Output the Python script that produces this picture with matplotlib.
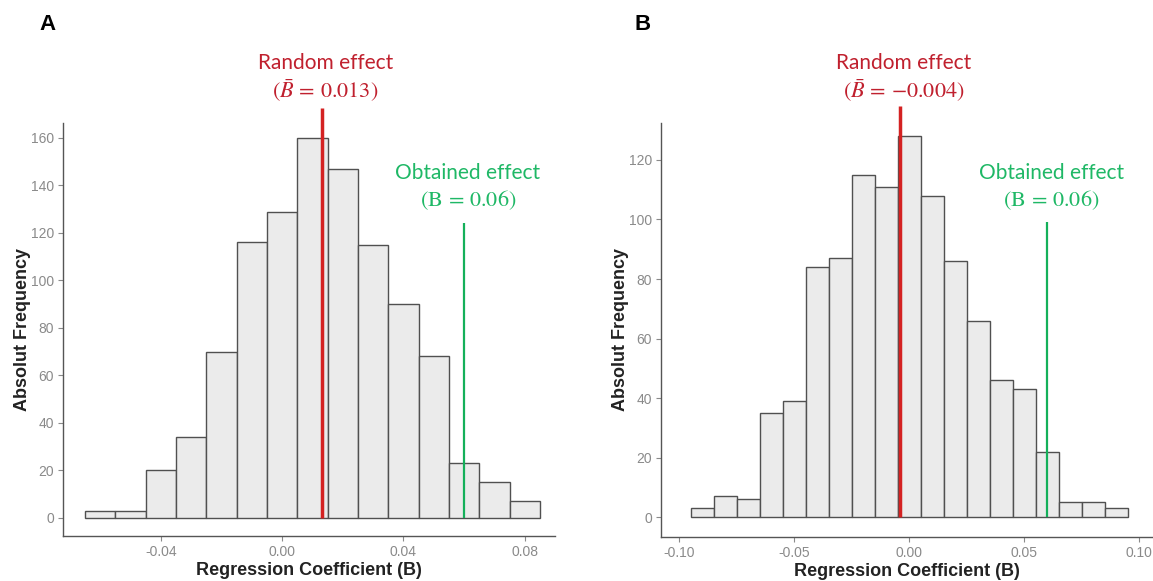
import numpy as np
import matplotlib.pyplot as plt
import matplotlib.transforms as mtransforms

plt.rcParams['font.family'] = ['Liberation Sans', 'DejaVu Sans']
plt.rcParams['axes.unicode_minus'] = False
plt.rcParams['mathtext.fontset'] = 'stix'

# dados do painel A (bins de largura 0.01)
centros_a = [-0.06, -0.05, -0.04, -0.03, -0.02, -0.01, 0.00, 0.01,
             0.02, 0.03, 0.04, 0.05, 0.06, 0.07, 0.08]
freq_a = [3, 3, 20, 34, 70, 116, 129, 160, 147, 115, 90, 68, 23, 15, 7]
efeito_aleatorio_a = 0.013
efeito_obtido_a = 0.06

# dados do painel B
centros_b = [-0.09, -0.08, -0.07, -0.06, -0.05, -0.04, -0.03, -0.02, -0.01, 0.00,
             0.01, 0.02, 0.03, 0.04, 0.05, 0.06, 0.07, 0.08, 0.09]
freq_b = [3, 7, 6, 35, 39, 84, 87, 115, 111, 128, 108, 86, 66, 46, 43, 22, 5, 5, 3]
efeito_aleatorio_b = -0.004
efeito_obtido_b = 0.06

largura = 0.01
vermelho_linha = '#d42222'
vermelho_texto = '#c0202e'
verde_linha = '#14b05a'
verde_texto = '#1fb866'

W, H = 1153, 581
fig = plt.figure(figsize=(W / 100, H / 100), dpi=100)


def eixo(l, r, b, t):
    return fig.add_axes([l / W, 1 - b / H, (r - l) / W, (b - t) / H])


def painel(ax, centros, freq, aleat, obtido, topo_vermelho, topo_verde,
           rotulo_aleat, xlim, ylim, xticks, yticks):
    ax.bar(centros, freq, width=largura, color='#ebebeb', edgecolor='#505050',
           linewidth=1.0, zorder=2)
    ax.plot([aleat, aleat], [0, topo_vermelho], color=vermelho_linha, lw=2.5,
            clip_on=False, zorder=3, solid_capstyle='butt')
    ax.plot([obtido, obtido], [0, topo_verde], color=verde_linha, lw=1.6,
            clip_on=False, zorder=3, solid_capstyle='butt')
    ax.set_xlim(*xlim)
    ax.set_ylim(*ylim)
    ax.set_xticks(xticks)
    ax.set_xticklabels(['%.2f' % v for v in xticks])
    ax.set_yticks(yticks)
    for s in ['top', 'right']:
        ax.spines[s].set_visible(False)
    for s in ['left', 'bottom']:
        ax.spines[s].set_color('#555555')
        ax.spines[s].set_linewidth(1.0)
    ax.tick_params(colors='#8a8a8a', labelsize=10, length=3.5, width=0.8, pad=3)
    ax.set_xlabel('Regression Coefficient (B)', fontsize=13, fontweight='bold',
                  color='#222222', labelpad=2)
    ax.set_ylabel('Absolut Frequency', fontsize=13, fontweight='bold',
                  color='#222222', labelpad=0)

    trans = mtransforms.blended_transform_factory(ax.transData, fig.transFigure)
    off = mtransforms.offset_copy(trans, fig=fig, x=4, y=0, units='dots')
    ax.text(aleat, 1 - 63 / H, 'Random effect', transform=off, ha='center',
            va='center', color=vermelho_texto, fontsize=15, family='Lato')
    ax.text(aleat, 1 - 91 / H, rotulo_aleat, transform=off, ha='center',
            va='center', color=vermelho_texto, fontsize=16)
    ax.text(obtido, 1 - 173 / H, 'Obtained effect', transform=off, ha='center',
            va='center', color=verde_texto, fontsize=15, family='Lato')
    ax.text(obtido, 1 - 200 / H, r'$(\mathrm{B}\,=\,0.06)$', transform=off,
            ha='center', va='center', color=verde_texto, fontsize=16)


ax_a = eixo(63, 555, 536, 123)
painel(ax_a, centros_a, freq_a, efeito_aleatorio_a, efeito_obtido_a, 172.5, 124,
       r'$(\bar{B}\,=\,0.013)$', (-0.0723, 0.090), (-7.6, 166.3),
       [-0.04, 0.00, 0.04, 0.08], np.arange(0, 161, 20))

ax_b = eixo(661, 1153, 536.7, 122.7)
painel(ax_b, centros_b, freq_b, efeito_aleatorio_b, efeito_obtido_b, 138, 99,
       r'$(\bar{B}\,=\,{-}0.004)$', (-0.108, 0.106), (-6.5, 132.5),
       [-0.10, -0.05, 0.00, 0.05, 0.10], np.arange(0, 121, 20))

fig.text(47 / W, 1 - 24 / H, 'A', fontsize=16, fontweight='bold', ha='center', va='center')
fig.text(643 / W, 1 - 24 / H, 'B', fontsize=16, fontweight='bold', ha='center', va='center')

fig.savefig('out.png', dpi=100)
